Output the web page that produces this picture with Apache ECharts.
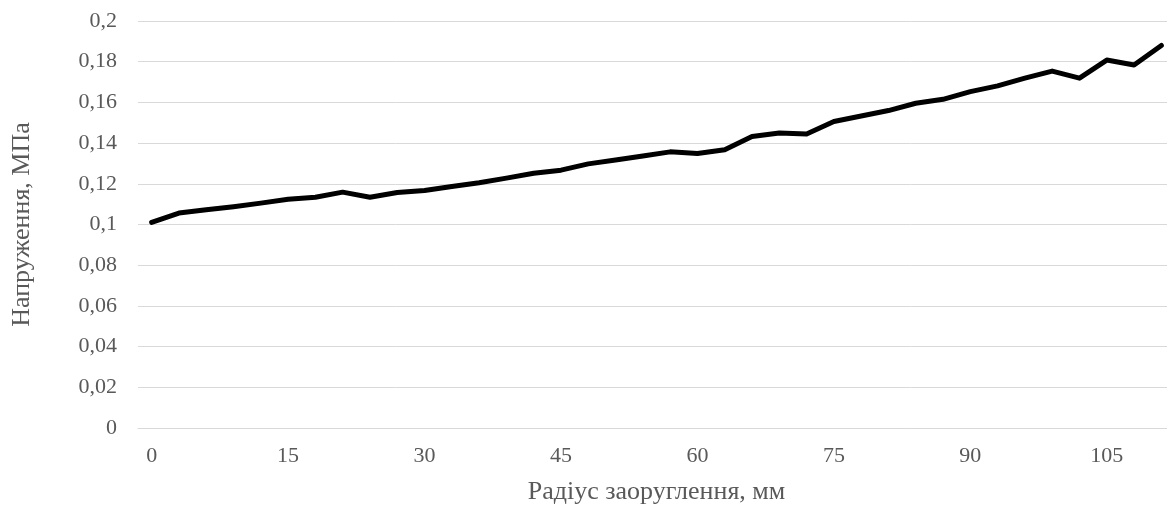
<!DOCTYPE html>
<html>
<head>
<meta charset="utf-8">
<script src="https://cdn.jsdelivr.net/npm/echarts@6/dist/echarts.min.js"></script>
<style>
html,body{margin:0;padding:0;background:#fff;}
#c{width:1167px;height:509px;}
</style>
</head>
<body>
<div id="c"></div>
<script>
const radius = [0,3,6,9,12,15,18,21,24,27,30,33,36,39,42,45,48,51,54,57,60,63,66,69,72,75,78,81,84,87,90,93,96,99,102,105,108,111];
const stress = [0.101,0.1056,0.1072,0.1087,0.1105,0.1124,0.1134,0.1159,0.1134,0.1157,0.1167,0.1187,0.1205,0.1228,0.1252,0.1267,0.1298,0.1317,0.1337,0.1357,0.1349,0.1367,0.1432,0.1450,0.1445,0.1506,0.1533,0.1560,0.1596,0.1615,0.1653,0.1681,0.1719,0.1754,0.1719,0.1808,0.1784,0.1880];
const xTitle = 'Радіус заоруглення, мм';
const yTitle = 'Напруження, МПа';

const font = '"Liberation Serif", "Times New Roman", serif';
const chart = echarts.init(document.getElementById('c'), null, {renderer: 'canvas'});
chart.setOption({
  animation: false,
  backgroundColor: '#ffffff',
  grid: {left: 138, top: 21, width: 1037, height: 407, containLabel: false, outerBoundsMode: 'none'},
  xAxis: {
    type: 'category',
    data: radius.map(String),
    boundaryGap: true,
    name: xTitle,
    nameLocation: 'middle',
    nameGap: 51,
    nameTextStyle: {fontFamily: font, fontSize: 26, color: '#595959'},
    axisLine: {show: true, lineStyle: {color: '#d9d9d9', width: 1}},
    axisTick: {show: false},
    axisLabel: {interval: 4, margin: 17, fontFamily: font, fontSize: 22, color: '#595959'},
    splitLine: {show: false}
  },
  yAxis: {
    type: 'value',
    min: 0,
    max: 0.2,
    interval: 0.02,
    name: yTitle,
    nameLocation: 'middle',
    nameGap: 103,
    nameTextStyle: {fontFamily: font, fontSize: 26, color: '#595959'},
    axisLine: {show: false},
    axisTick: {show: false},
    axisLabel: {
      margin: 21, fontFamily: font, fontSize: 22, color: '#595959',
      formatter: v => String(Math.round(v * 100) / 100).replace('.', ',')
    },
    splitLine: {show: true, lineStyle: {color: '#d9d9d9', width: 1}}
  },
  series: [{
    type: 'line',
    data: stress,
    showSymbol: false,
    symbol: 'none',
    lineStyle: {color: '#000000', width: 5, cap: 'round', join: 'round'},
    z: 5
  }]
});
</script>
</body>
</html>
